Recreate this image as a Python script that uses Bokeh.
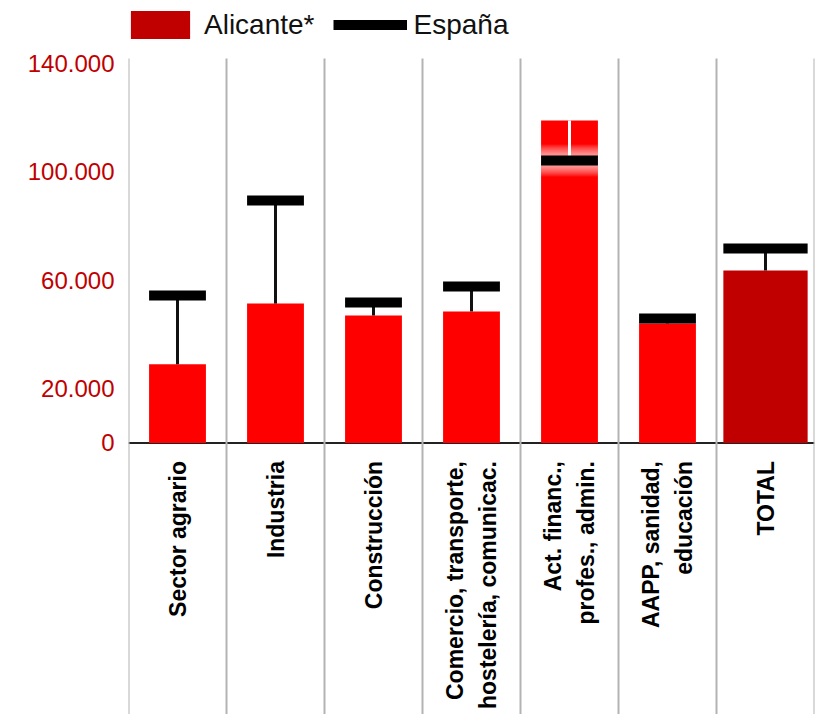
import math
from bokeh.plotting import figure
from bokeh.models import (Range1d, FixedTicker, Span, Legend, LegendItem, ColumnDataSource)
from bokeh.core.properties import value
from bokeh.embed import file_html
from bokeh.resources import INLINE

# ---- data ----
categories = ["Sector agrario", "Industria", "Construcción",
              "Comercio, transporte,\nhostelería, comunicac.",
              "Act. financ.,\nprofes., admin.",
              "AAPP, sanidad,\neducación", "TOTAL"]
alicante = [29000, 51400, 47000, 48500, 118900, 44100, 63600]
espana = [54400, 89400, 51800, 57700, 104100, 45900, 71700]
y_ticks = [0, 20000, 60000, 100000, 140000]
y_tick_labels = ["0", "20.000", "60.000", "100.000", "140.000"]

# ---- styling ----
RED = "#FF0000"
DARK_RED = "#C00000"
SEP = "#B3B3B3"
BAR_W = 0.58
TOTAL_W = 0.86
Y_START, Y_END = -100090, 163130
Y_TOP = 141750

n = len(categories)
xc = [i + 0.5 for i in range(n)]
widths = [TOTAL_W if c == "TOTAL" else BAR_W for c in categories]
colors = [DARK_RED if c == "TOTAL" else RED for c in categories]
conn_colors = ["white" if e < a else "#111111" for a, e in zip(alicante, espana)]

src = ColumnDataSource(dict(x=xc, top=alicante, esp=espana, w=widths, color=colors,
                            conn=conn_colors,
                            x0=[x - w / 2 for x, w in zip(xc, widths)],
                            x1=[x + w / 2 for x, w in zip(xc, widths)],
                            label=categories))
glow = ColumnDataSource(dict(
    x0=[x - w / 2 for x, w, a, e in zip(xc, widths, alicante, espana) if e < a],
    x1=[x + w / 2 for x, w, a, e in zip(xc, widths, alicante, espana) if e < a],
    y=[e for a, e in zip(alicante, espana) if e < a]))

p = figure(width=818, height=714, output_backend="svg", toolbar_location=None,
           x_range=Range1d(0, n), y_range=Range1d(Y_START, Y_END),
           x_axis_location=None, min_border_left=128, min_border_right=4,
           min_border_top=0, min_border_bottom=0)
p.outline_line_color = None
p.xgrid.visible = False
p.ygrid.visible = False

# y axis
ax = p.yaxis[0]
ax.ticker = FixedTicker(ticks=y_ticks)
ax.major_label_overrides = {t: l for t, l in zip(y_ticks, y_tick_labels)}
ax.axis_line_color = None
ax.major_tick_line_color = None
ax.minor_tick_line_color = None
ax.major_tick_out = 0
ax.major_tick_in = 0
ax.major_label_standoff = 14
ax.major_label_text_font = "Liberation Sans"
ax.major_label_text_font_size = "24px"
ax.major_label_text_color = DARK_RED

# category separators
bounds = list(range(n + 1))
p.segment(x0=bounds, y0=[Y_START] * len(bounds), x1=bounds, y1=[Y_TOP] * len(bounds),
          line_color=SEP, line_width=2)

# zero line
zl = Span(location=0, dimension="width", line_color="#222222", line_width=2, level="underlay")
p.add_layout(zl)

bars = p.vbar(x="x", top="top", bottom=0, width="w", source=src,
              fill_color="color", line_color=None)

# connectors
p.segment(x0="x", y0="top", x1="x", y1="esp", source=src, line_color="conn", line_width=3)

# soft glow for markers sitting on a bar
for lw in range(12, 34, 2):
    p.segment(x0="x0", y0="y", x1="x1", y1="y", source=glow, line_color="white",
              line_alpha=0.08, line_width=lw, line_cap="butt")

# España markers
markers = p.segment(x0="x0", y0="esp", x1="x1", y1="esp", source=src, line_color="black",
                    line_width=10, line_cap="butt")

# category labels
p.text(x="x", y=0, text="label", source=src, angle=math.pi / 2, y_offset=18,
       text_align="right", text_baseline="middle", text_font=value("Liberation Sans"),
       text_font_style="bold", text_font_size="23px", text_color="black",
       text_line_height=1.3)

# legend
legend = Legend(items=[LegendItem(label="Alicante*", renderers=[bars], index=6),
                       LegendItem(label="España", renderers=[markers])],
                location=(-5, 672), orientation="horizontal",
                glyph_width=74, glyph_height=35, label_height=35,
                label_standoff=7, spacing=18,
                label_text_font="Liberation Sans", label_text_font_size="28px",
                label_text_color="#111111", padding=0, margin=0,
                border_line_color=None, background_fill_alpha=0)
p.add_layout(legend)

open("out.html", "w").write(file_html(p, INLINE))
